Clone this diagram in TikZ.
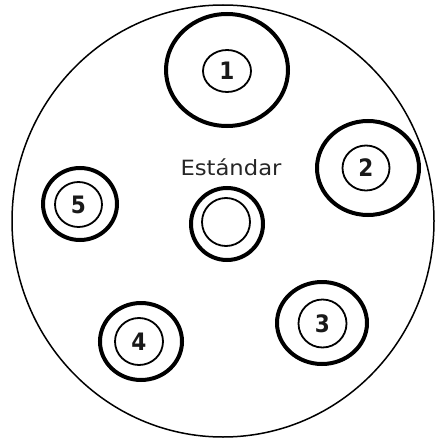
\documentclass[tikz,border=0pt]{standalone}
\usepackage{fontspec}
\setmainfont{DejaVu Sans}
\newfontfamily\digitfont{DejaVu Sans Condensed}[BoldFont={DejaVu Sans Condensed Bold}]
\usetikzlibrary{shapes.geometric}
\tikzset{
  plate/.style={draw, ellipse, inner sep=0pt, line width=1.5pt, minimum width=422pt, minimum height=432pt},
  ring/.style={draw, ellipse, inner sep=0pt, line width=4pt},
  well/.style={draw, ellipse, inner sep=0pt, line width=1.8pt, text=black!90,
    font=\digitfont\bfseries\fontsize{24}{24}\selectfont},
  lbl/.style={inner sep=0pt, text=black!85, font=\fontsize{21}{21}\selectfont}
}
\begin{document}
\begin{tikzpicture}[x=1pt,y=-1pt]
\useasboundingbox (0,0) rectangle (436,441);
\node[plate] (plate) at (223,221) {};
% 1
\node[ring, minimum width=122pt, minimum height=112pt] (r1) at (227,70) {};
\node[well, minimum width=48pt, minimum height=42pt] (w1) at (227,71) {1};
% 2
\node[ring, minimum width=102pt, minimum height=94pt] (r2) at (368,168) {};
\node[well, minimum width=47pt, minimum height=45pt] (w2) at (366,168) {2};
% 3
\node[ring, minimum width=90pt, minimum height=82pt] (r3) at (322,323) {};
\node[well, minimum width=48pt, minimum height=48pt] (w3) at (322.5,323.5) {3};
% 4
\node[ring, minimum width=82pt, minimum height=77pt] (r4) at (141,341.5) {};
\node[well, minimum width=48pt, minimum height=47pt] (w4) at (139,341.5) {4};
% 5
\node[ring, minimum width=74pt, minimum height=72pt] (r5) at (80,204) {};
\node[well, minimum width=47pt, minimum height=45pt] (w5) at (78.5,204.5) {5};
% standard
\node[ring, minimum width=72pt, minimum height=72pt] (rs) at (227,224) {};
\node[well, minimum width=48pt, minimum height=48pt] (ws) at (226,222) {};
\node[lbl, anchor=base] (std) at (231,175) {\scalebox{1.08}[1]{Estándar}};
\end{tikzpicture}
\end{document}
